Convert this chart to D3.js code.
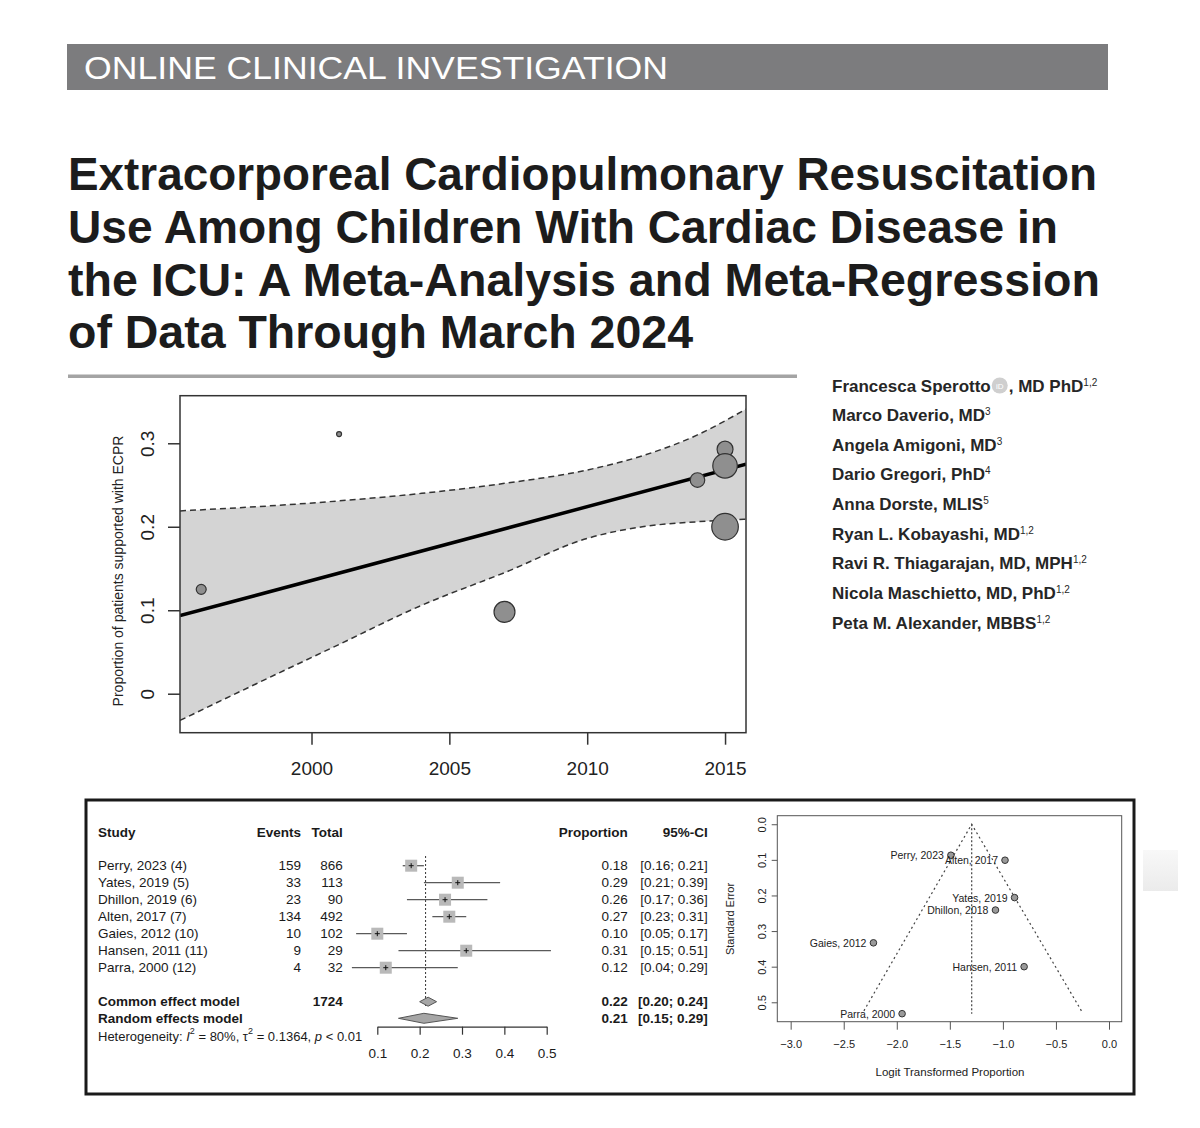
<!DOCTYPE html>
<html>
<head>
<meta charset="utf-8">
<script src="https://cdn.jsdelivr.net/npm/d3@7.9.0/dist/d3.min.js"></script>
<style>
  body { margin: 0; background: #fff; }
  svg { display: block; font-family: "Liberation Sans", Arial, Helvetica, sans-serif; }
</style>
</head>
<body>
<svg id="page" width="1200" height="1128"></svg>
<script>
// ---- data ----
const titleLines = [
  "Extracorporeal Cardiopulmonary Resuscitation",
  "Use Among Children With Cardiac Disease in",
  "the ICU: A Meta-Analysis and Meta-Regression",
  "of Data Through March 2024"
];
const authors = [
  "Francesca Sperotto", "Marco Daverio, MD", "Angela Amigoni, MD", "Dario Gregori, PhD",
  "Anna Dorste, MLIS", "Ryan L. Kobayashi, MD", "Ravi R. Thiagarajan, MD, MPH",
  "Nicola Maschietto, MD, PhD", "Peta M. Alexander, MBBS"
];
const affiliations = ["1,2", "3", "3", "4", "5", "1,2", "1,2", "1,2", "1,2"];

// meta-regression (bubble plot)
const bubbleYears = [1996, 2001, 2007, 2014, 2015, 2015, 2015];
const bubbleProps = [0.125, 0.311, 0.098, 0.256, 0.293, 0.273, 0.200];
const bubbleWeights = [14, 3.5, 62, 30, 36, 85, 100];
const fitYears = [1995.23, 2015.76];
const fitProps = [0.0935, 0.275];
const ciYears = [1995.23, 1998, 2001, 2004, 2007, 2010, 2012, 2014, 2015.76];
const ciUpper = [0.219, 0.224, 0.231, 0.240, 0.252, 0.268, 0.285, 0.310, 0.341];
const ciLower = [-0.032, 0.012, 0.059, 0.106, 0.145, 0.186, 0.200, 0.206, 0.209];
const yearTicks = [2000, 2005, 2010, 2015];
const propTicks = [0, 0.1, 0.2, 0.3];

// forest plot
const studies = ["Perry, 2023 (4)", "Yates, 2019 (5)", "Dhillon, 2019 (6)", "Alten, 2017 (7)",
  "Gaies, 2012 (10)", "Hansen, 2011 (11)", "Parra, 2000 (12)"];
const events = [159, 33, 23, 134, 10, 9, 4];
const totals = [866, 113, 90, 492, 102, 29, 32];
const props = [0.18, 0.29, 0.26, 0.27, 0.10, 0.31, 0.12];
const lowers = [0.16, 0.21, 0.17, 0.23, 0.05, 0.15, 0.04];
const uppers = [0.21, 0.39, 0.36, 0.31, 0.17, 0.51, 0.29];
const pooled = [
  { label: "Common effect model", total: 1724, est: 0.22, lo: 0.20, hi: 0.24 },
  { label: "Random effects model", total: null, est: 0.21, lo: 0.15, hi: 0.29 }
];
const forestRef = 0.214;
const forestTicks = [0.1, 0.2, 0.3, 0.4, 0.5];

// funnel plot
const funnelLabels = ["Perry, 2023", "Alten, 2017", "Yates, 2019", "Dhillon, 2018",
  "Gaies, 2012", "Hansen, 2011", "Parra, 2000"];
const funnelLogit = [-1.49, -0.98, -0.89, -1.07, -2.22, -0.80, -1.95];
const funnelSE = [0.087, 0.101, 0.206, 0.241, 0.333, 0.400, 0.532];
const funnelApex = -1.294;
const funnelBase = { se: 0.524, left: -2.31, right: -0.26 };
const logitTicks = [-3, -2.5, -2, -1.5, -1, -0.5, 0];
const seTicks = [0, 0.1, 0.2, 0.3, 0.4, 0.5];

const svg = d3.select("#page");
const fmt1 = d3.format(".1f");
const fmt2 = d3.format(".2f");

// ---- header ----
svg.append("rect").attr("x", 67).attr("y", 44).attr("width", 1041).attr("height", 46).attr("fill", "#7c7c7e");
svg.append("text").attr("x", 84).attr("y", 78.5).attr("font-size", 32).attr("fill", "#fff")
  .attr("textLength", 584).attr("lengthAdjust", "spacingAndGlyphs")
  .text("ONLINE CLINICAL INVESTIGATION");

const titleBase = [190, 243, 296, 348];
const titleWidth = [1029, 990, 1032, 625];
titleLines.forEach((t, i) => {
  svg.append("text").attr("x", 68).attr("y", titleBase[i])
    .attr("font-size", 46).attr("font-weight", "bold").attr("fill", "#1c1c1c")
    .attr("textLength", titleWidth[i]).attr("lengthAdjust", "spacingAndGlyphs")
    .text(t);
});
svg.append("rect").attr("x", 68).attr("y", 374.5).attr("width", 729).attr("height", 3.5).attr("fill", "#a4a4a4");

// ---- authors ----
const ay = d3.scalePoint().domain(authors).range([391.5, 628.5]);
authors.forEach((a, i) => {
  const t = svg.append("text").attr("x", 832).attr("y", ay(a))
    .attr("font-size", 17).attr("font-weight", "bold").attr("fill", "#262626");
  t.append("tspan").text(a);
  if (i === 0) {
    const w = t.node().getComputedTextLength();
    const cx = 832 + w + 9;
    svg.append("circle").attr("cx", cx).attr("cy", ay(a) - 6).attr("r", 8).attr("fill", "#cfcfcf");
    svg.append("text").attr("x", cx).attr("y", ay(a) - 3).attr("text-anchor", "middle")
      .attr("font-size", 8).attr("fill", "#fff").text("iD");
    t.append("tspan").attr("dx", 18).text(", MD PhD");
  }
  t.append("tspan").attr("font-size", 10).attr("font-weight", "normal").attr("dy", -6).text(affiliations[i]);
});

// ---- meta-regression bubble plot ----
const sx = d3.scaleLinear().domain([1995.23, 2015.76]).range([180, 746]);
const sy = d3.scaleLinear().domain([-0.0467, 0.357]).range([732.7, 395.7]);
const sr = d3.scaleSqrt().domain([0, 100]).range([0, 13.3]);

svg.append("clipPath").attr("id", "plotclip").append("rect")
  .attr("x", 180).attr("y", 395.7).attr("width", 566).attr("height", 337);
const plot = svg.append("g").attr("clip-path", "url(#plotclip)");

const ciData = ciYears.map((y, i) => ({ year: y, lo: ciLower[i], hi: ciUpper[i] }));
plot.append("path").datum(ciData)
  .attr("d", d3.area().x(d => sx(d.year)).y0(d => sy(d.lo)).y1(d => sy(d.hi)).curve(d3.curveMonotoneX))
  .attr("fill", "#d4d4d4");
["hi", "lo"].forEach(k => {
  plot.append("path").datum(ciData)
    .attr("d", d3.line().x(d => sx(d.year)).y(d => sy(d[k])).curve(d3.curveMonotoneX))
    .attr("fill", "none").attr("stroke", "#333").attr("stroke-width", 1.5).attr("stroke-dasharray", "6,4");
});
plot.append("path").datum(fitYears.map((y, i) => [y, fitProps[i]]))
  .attr("d", d3.line().x(d => sx(d[0])).y(d => sy(d[1])))
  .attr("stroke", "#000").attr("stroke-width", 3.5).attr("fill", "none");

plot.selectAll("circle.bubble").data(bubbleYears).join("circle").attr("class", "bubble")
  .attr("cx", d => sx(d)).attr("cy", (d, i) => sy(bubbleProps[i])).attr("r", (d, i) => sr(bubbleWeights[i]))
  .attr("fill", "#8f8f8f").attr("stroke", "#333").attr("stroke-width", 1.2);

svg.append("rect").attr("x", 180).attr("y", 395.7).attr("width", 566).attr("height", 337)
  .attr("fill", "none").attr("stroke", "#333").attr("stroke-width", 1.5);

const xAx = svg.append("g").attr("transform", "translate(0,732.7)")
  .call(d3.axisBottom(sx).tickValues(yearTicks).tickSize(12).tickSizeOuter(0).tickPadding(16.6).tickFormat(d3.format("d")));
xAx.select(".domain").remove();
xAx.selectAll("line").attr("stroke", "#333").attr("stroke-width", 1.5);
xAx.selectAll("text").attr("font-size", 19).attr("fill", "#222").attr("font-family", null);

const yAx = svg.append("g").attr("transform", "translate(180,0)")
  .call(d3.axisLeft(sy).tickValues(propTicks).tickSize(12).tickSizeOuter(0).tickFormat(d => d === 0 ? "0" : fmt1(d)));
yAx.select(".domain").remove();
yAx.selectAll("line").attr("stroke", "#333").attr("stroke-width", 1.5);
yAx.selectAll("text").attr("font-size", 19).attr("fill", "#222").attr("font-family", null)
  .attr("transform", "rotate(-90)").attr("x", 0).attr("y", -33).attr("dy", null)
  .attr("text-anchor", "middle").attr("dominant-baseline", "central");

svg.append("text").attr("transform", "translate(118,571) rotate(-90)")
  .attr("text-anchor", "middle").attr("dominant-baseline", "central")
  .attr("font-size", 14).attr("fill", "#222").text("Proportion of patients supported with ECPR");

// ---- bottom panel frame ----
svg.append("rect").attr("x", 86).attr("y", 800).attr("width", 1048).attr("height", 294)
  .attr("fill", "none").attr("stroke", "#1a1a1a").attr("stroke-width", 3);

// small scan artefact to the right of the frame
const grad = svg.append("defs").append("linearGradient").attr("id", "fade").attr("x1", 0).attr("y1", 0).attr("x2", 0).attr("y2", 1);
grad.append("stop").attr("offset", 0).attr("stop-color", "#f8f8f8");
grad.append("stop").attr("offset", 1).attr("stop-color", "#ebebeb");
svg.append("rect").attr("x", 1143).attr("y", 850).attr("width", 35).attr("height", 41).attr("fill", "url(#fade)");

// ---- forest plot ----
const fx = d3.scaleLinear().domain([0.1, 0.5]).range([377.3, 546.7]);
const fy = d3.scalePoint().domain(studies).range([865.7, 967.7]);
const fs = 13.5;
const forest = svg.append("g").attr("font-size", fs).attr("fill", "#1a1a1a");

const hdrY = 832;
forest.append("text").attr("x", 98).attr("y", hdrY).attr("dominant-baseline", "central").attr("font-weight", "bold").text("Study");
forest.append("text").attr("x", 301).attr("y", hdrY).attr("dominant-baseline", "central").attr("text-anchor", "end").attr("font-weight", "bold").text("Events");
forest.append("text").attr("x", 342.7).attr("y", hdrY).attr("dominant-baseline", "central").attr("text-anchor", "end").attr("font-weight", "bold").text("Total");
forest.append("text").attr("x", 627.7).attr("y", hdrY).attr("dominant-baseline", "central").attr("text-anchor", "end").attr("font-weight", "bold").text("Proportion");
forest.append("text").attr("x", 707.7).attr("y", hdrY).attr("dominant-baseline", "central").attr("text-anchor", "end").attr("font-weight", "bold").text("95%-CI");

studies.forEach((s, i) => {
  const y = fy(s);
  forest.append("text").attr("x", 98).attr("y", y).attr("dominant-baseline", "central").text(s);
  forest.append("text").attr("x", 301).attr("y", y).attr("dominant-baseline", "central").attr("text-anchor", "end").text(events[i]);
  forest.append("text").attr("x", 342.7).attr("y", y).attr("dominant-baseline", "central").attr("text-anchor", "end").text(totals[i]);
  forest.append("text").attr("x", 627.7).attr("y", y).attr("dominant-baseline", "central").attr("text-anchor", "end").text(fmt2(props[i]));
  forest.append("text").attr("x", 707.7).attr("y", y).attr("dominant-baseline", "central").attr("text-anchor", "end")
    .text(`[${fmt2(lowers[i])}; ${fmt2(uppers[i])}]`);
});

// reference line
forest.append("line").attr("x1", fx(forestRef)).attr("x2", fx(forestRef)).attr("y1", 856).attr("y2", 1008)
  .attr("stroke", "#333").attr("stroke-width", 1).attr("stroke-dasharray", "2,2");

// CI lines + squares
forest.selectAll("line.ci").data(studies).join("line").attr("class", "ci")
  .attr("x1", (d, i) => fx(lowers[i])).attr("x2", (d, i) => fx(uppers[i]))
  .attr("y1", d => fy(d)).attr("y2", d => fy(d)).attr("stroke", "#5a5a5a").attr("stroke-width", 1.3);
forest.selectAll("rect.sq").data(studies).join("rect").attr("class", "sq")
  .attr("x", (d, i) => fx(props[i]) - 6).attr("y", d => fy(d) - 6).attr("width", 12).attr("height", 12)
  .attr("fill", "#b9b9b9");
forest.selectAll("line.mid").data(studies).join("line").attr("class", "mid")
  .attr("x1", (d, i) => fx(props[i])).attr("x2", (d, i) => fx(props[i]))
  .attr("y1", d => fy(d) - 2.5).attr("y2", d => fy(d) + 2.5).attr("stroke", "#111").attr("stroke-width", 1);
forest.selectAll("line.midh").data(studies).join("line").attr("class", "midh")
  .attr("x1", (d, i) => fx(props[i]) - 2.5).attr("x2", (d, i) => fx(props[i]) + 2.5)
  .attr("y1", d => fy(d)).attr("y2", d => fy(d)).attr("stroke", "#111").attr("stroke-width", 1);

// pooled rows
const pooledY = [1001.7, 1018.3];
const diamondH = [4.5, 5];
pooled.forEach((p, i) => {
  const y = pooledY[i];
  forest.append("text").attr("x", 98).attr("y", y).attr("dominant-baseline", "central").attr("font-weight", "bold").text(p.label);
  if (p.total !== null)
    forest.append("text").attr("x", 342.7).attr("y", y).attr("dominant-baseline", "central").attr("text-anchor", "end").attr("font-weight", "bold").text(p.total);
  forest.append("text").attr("x", 627.7).attr("y", y).attr("dominant-baseline", "central").attr("text-anchor", "end").attr("font-weight", "bold").text(fmt2(p.est));
  forest.append("text").attr("x", 707.7).attr("y", y).attr("dominant-baseline", "central").attr("text-anchor", "end").attr("font-weight", "bold")
    .text(`[${fmt2(p.lo)}; ${fmt2(p.hi)}]`);
  const h = diamondH[i];
  forest.append("polygon")
    .attr("points", [[fx(p.lo), y], [fx(p.est), y - h], [fx(p.hi), y], [fx(p.est), y + h]].map(q => q.join(",")).join(" "))
    .attr("fill", "#a6a6a6").attr("stroke", "#555").attr("stroke-width", 1);
});

// heterogeneity
const het = forest.append("text").attr("x", 98).attr("y", 1036).attr("dominant-baseline", "central").attr("font-size", 13);
het.append("tspan").text("Heterogeneity: ");
het.append("tspan").attr("font-style", "italic").text("I");
het.append("tspan").attr("font-size", 9).attr("dy", -5).text("2");
het.append("tspan").attr("dy", 5).text(" = 80%, \u03c4");
het.append("tspan").attr("font-size", 9).attr("dy", -5).text("2");
het.append("tspan").attr("dy", 5).text(" = 0.1364, ");
het.append("tspan").attr("font-style", "italic").text("p");
het.append("tspan").text(" < 0.01");

const fAx = svg.append("g").attr("transform", "translate(0,1026.7)")
  .call(d3.axisBottom(fx).tickValues(forestTicks).tickSize(8).tickSizeOuter(0).tickPadding(13.3).tickFormat(fmt1));
fAx.selectAll("path, line").attr("stroke", "#333").attr("stroke-width", 1.2);
fAx.selectAll("text").attr("font-size", 13.5).attr("fill", "#1a1a1a").attr("font-family", null);

// ---- funnel plot ----
const gx = d3.scaleLinear().domain([-3.126, 0.1196]).range([777.3, 1121.7]);
const gy = d3.scaleLinear().domain([-0.024, 0.5545]).range([815.7, 1021.7]);

svg.append("rect").attr("x", 777.3).attr("y", 815.7).attr("width", 344.4).attr("height", 206)
  .attr("fill", "none").attr("stroke", "#555").attr("stroke-width", 1);

svg.append("path")
  .attr("d", d3.line()([[gx(funnelBase.left), gy(funnelBase.se)], [gx(funnelApex), gy(0)], [gx(funnelBase.right), gy(funnelBase.se)]]))
  .attr("fill", "none").attr("stroke", "#444").attr("stroke-width", 1.2).attr("stroke-dasharray", "2,3");
svg.append("line").attr("x1", gx(funnelApex)).attr("x2", gx(funnelApex)).attr("y1", gy(0)).attr("y2", gy(0.532))
  .attr("stroke", "#444").attr("stroke-width", 1.2).attr("stroke-dasharray", "2,2");

svg.selectAll("circle.fp").data(funnelLabels).join("circle").attr("class", "fp")
  .attr("cx", (d, i) => gx(funnelLogit[i])).attr("cy", (d, i) => gy(funnelSE[i])).attr("r", 3.3)
  .attr("fill", "#9a9a9a").attr("stroke", "#333").attr("stroke-width", 1);
svg.selectAll("text.fl").data(funnelLabels).join("text").attr("class", "fl")
  .attr("x", (d, i) => gx(funnelLogit[i]) - 7).attr("y", (d, i) => gy(funnelSE[i]))
  .attr("text-anchor", "end").attr("dominant-baseline", "central")
  .attr("font-size", 10.5).attr("fill", "#222").text(d => d);

const gxAx = svg.append("g").attr("transform", "translate(0,1021.7)")
  .call(d3.axisBottom(gx).tickValues(logitTicks).tickSize(8).tickSizeOuter(0).tickPadding(10.8).tickFormat(fmt1));
gxAx.select(".domain").remove();
gxAx.selectAll("line").attr("stroke", "#555");
gxAx.selectAll("text").attr("font-size", 11).attr("fill", "#222").attr("font-family", null);

const gyAx = svg.append("g").attr("transform", "translate(777.3,0)")
  .call(d3.axisLeft(gy).tickValues(seTicks).tickSize(5.6).tickSizeOuter(0).tickFormat(fmt1));
gyAx.select(".domain").remove();
gyAx.selectAll("line").attr("stroke", "#555");
gyAx.selectAll("text").attr("font-size", 11).attr("fill", "#222").attr("font-family", null)
  .attr("transform", "rotate(-90)").attr("x", 0).attr("y", -15.6).attr("dy", null)
  .attr("text-anchor", "middle").attr("dominant-baseline", "central");

svg.append("text").attr("transform", "translate(730,919) rotate(-90)")
  .attr("text-anchor", "middle").attr("dominant-baseline", "central")
  .attr("font-size", 11).attr("fill", "#222").text("Standard Error");
svg.append("text").attr("x", 950).attr("y", 1071.7).attr("text-anchor", "middle").attr("dominant-baseline", "central")
  .attr("font-size", 11.5).attr("fill", "#222").text("Logit Transformed Proportion");
</script>
</body>
</html>
